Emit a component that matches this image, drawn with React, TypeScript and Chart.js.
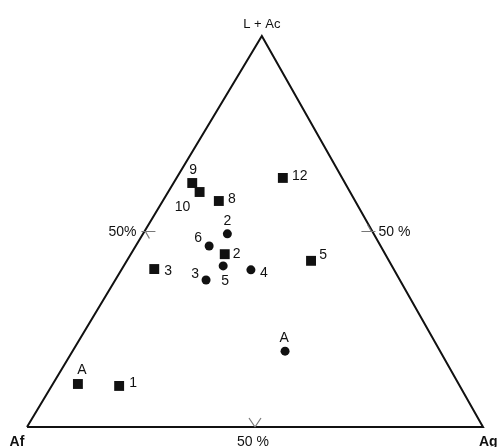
import React, { useEffect, useRef } from "react";
import { Chart, registerables } from "chart.js";

Chart.register(...registerables);

// Ternary compositions (%): L+Ac (top), Af (bottom-left), Ag (bottom-right)
const squareLabels = ["9", "10", "8", "12", "2", "3", "5", "A", "1"];
const squareLAc = [62.4, 60.1, 57.8, 63.7, 44.2, 40.4, 42.5, 11.0, 10.5];
const squareAf = [33.5, 33.0, 29.9, 13.0, 35.2, 52.5, 17.1, 83.5, 74.7];
const squareAg = [4.1, 6.9, 12.3, 23.3, 20.6, 7.1, 40.4, 5.5, 14.8];

const circleLabels = ["2", "6", "5", "3", "4", "A"];
const circleLAc = [49.4, 46.3, 41.2, 37.6, 40.2, 19.4];
const circleAf = [32.1, 37.6, 37.0, 42.5, 31.4, 34.0];
const circleAg = [18.5, 16.1, 21.8, 19.9, 28.4, 46.6];

const vertexLabels = ["L + Ac", "Af", "Ag"];
const midLabels = ["50%", "50 %", "50 %"]; // left side, right side, base

// label placement (pixel offsets from the marker) – styling only
const squareLabelOffsets = [[1, -13], [-17, 15], [13, -2], [17, -2], [12, 0], [14, 2], [12, -6], [4, -14], [14, -3]];
const circleLabelOffsets = [[0, -13], [-11, -8], [2, 15], [-11, -6], [13, 3], [-1, -13]];

// horizontal position of the apex along the base (drawing is slightly oblique)
const APEX = 0.515;

function toXY(lac: number, af: number, ag: number) {
  const s = lac + af + ag;
  return { x: (ag + lac * APEX) / s, y: lac / s };
}

const squares = squareLAc.map((v, i) => toXY(v, squareAf[i], squareAg[i]));
const circles = circleLAc.map((v, i) => toXY(v, circleAf[i], circleAg[i]));
const triangle = [toXY(0, 100, 0), toXY(0, 0, 100), toXY(100, 0, 0), toXY(0, 100, 0)];

const FONT = '"Liberation Sans", Arial, sans-serif';

const textPlugin = {
  id: "ternaryText",
  afterDatasetsDraw(chart: any) {
    const { ctx, scales } = chart;
    const px = (x: number) => scales.x.getPixelForValue(x);
    const py = (y: number) => scales.y.getPixelForValue(y);
    ctx.save();
    ctx.fillStyle = "#111";
    ctx.textBaseline = "middle";
    ctx.textAlign = "center";
    ctx.font = `14px ${FONT}`;
    squares.forEach((p, i) => {
      const [dx, dy] = squareLabelOffsets[i];
      ctx.fillText(squareLabels[i], px(p.x) + dx, py(p.y) + dy);
    });
    circles.forEach((p, i) => {
      const [dx, dy] = circleLabelOffsets[i];
      ctx.fillText(circleLabels[i], px(p.x) + dx, py(p.y) + dy);
    });
    // vertex labels
    const top = triangle[2], left = triangle[0], right = triangle[1];
    ctx.font = `13px ${FONT}`;
    ctx.fillText(vertexLabels[0], px(top.x), py(top.y) - 12);
    ctx.font = `bold 14px ${FONT}`;
    ctx.fillText(vertexLabels[1], px(left.x) - 10, py(left.y) + 15);
    ctx.textAlign = "left";
    ctx.fillText(vertexLabels[2], px(right.x) - 4, py(right.y) + 15);
    // mid-side ticks & labels
    const lm = toXY(50, 50, 0), rm = toXY(50, 0, 50), bm = toXY(0, 50, 50);
    ctx.strokeStyle = "#777";
    ctx.lineWidth = 1.2;
    ctx.beginPath();
    // left
    ctx.moveTo(px(lm.x) - 3, py(lm.y)); ctx.lineTo(px(lm.x) + 11, py(lm.y));
    ctx.moveTo(px(lm.x) + 1, py(lm.y)); ctx.lineTo(px(lm.x) + 5, py(lm.y) + 7);
    // right
    ctx.moveTo(px(rm.x) + 3, py(rm.y)); ctx.lineTo(px(rm.x) - 11, py(rm.y));
    ctx.moveTo(px(rm.x) - 1, py(rm.y)); ctx.lineTo(px(rm.x) - 5, py(rm.y) - 7);
    // base
    ctx.moveTo(px(bm.x), py(bm.y)); ctx.lineTo(px(bm.x) - 6, py(bm.y) - 9);
    ctx.moveTo(px(bm.x), py(bm.y)); ctx.lineTo(px(bm.x) + 6, py(bm.y) - 9);
    ctx.stroke();
    ctx.font = `14px ${FONT}`;
    ctx.textAlign = "right";
    ctx.fillText(midLabels[0], px(lm.x) - 8, py(lm.y) + 1);
    ctx.textAlign = "left";
    ctx.fillText(midLabels[1], px(rm.x) + 6, py(rm.y) + 1);
    ctx.textAlign = "center";
    ctx.fillText(midLabels[2], px(bm.x) - 2, py(bm.y) + 15);
    ctx.restore();
  },
};

export default function App() {
  const ref = useRef<HTMLCanvasElement | null>(null);
  useEffect(() => {
    if (!ref.current) return;
    const chart = new Chart(ref.current, {
      type: "scatter",
      data: {
        datasets: [
          {
            data: triangle,
            showLine: true,
            borderColor: "#111",
            borderWidth: 2,
            pointRadius: 0,
            fill: false,
            tension: 0,
          } as any,
          {
            data: squares,
            pointStyle: "rect",
            pointRadius: 7,
            backgroundColor: "#111",
            borderColor: "#111",
            borderWidth: 0,
          },
          {
            data: circles,
            pointStyle: "circle",
            pointRadius: 4.5,
            backgroundColor: "#111",
            borderColor: "#111",
            borderWidth: 0,
          },
        ],
      },
      options: {
        animation: false,
        responsive: false,
        layout: { padding: 0, autoPadding: false },
        plugins: { legend: { display: false }, tooltip: { enabled: false } },
        scales: {
          x: { type: "linear", display: false, min: -27 / 456, max: 471 / 456 },
          y: { type: "linear", display: false, min: -20 / 391, max: 427 / 391 },
        },
      },
      plugins: [textPlugin],
    });
    return () => chart.destroy();
  }, []);
  return (
    <div style={{ position: "fixed", left: 0, top: 0, width: 498, height: 447, background: "#fff" }}>
      <canvas ref={ref} width={498} height={447} style={{ width: 498, height: 447 }} />
    </div>
  );
}
